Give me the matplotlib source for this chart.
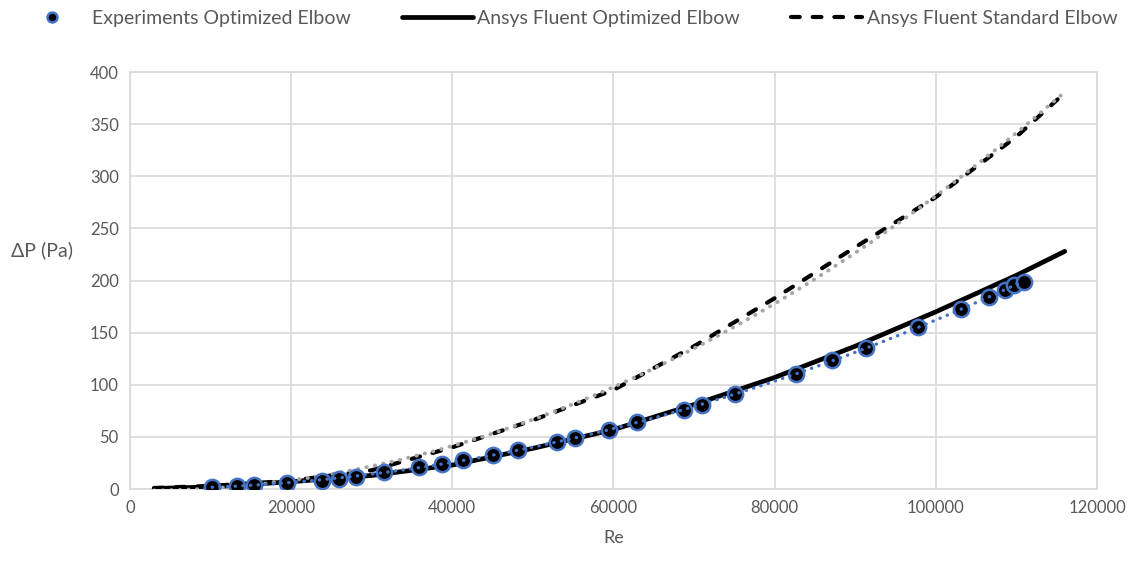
import numpy as np
import matplotlib
matplotlib.use('Agg')
import matplotlib.pyplot as plt

plt.rcParams['font.family'] = ['Lato', 'DejaVu Sans']

# experiments, optimized elbow
re_exp = [10200, 13300, 15400, 19500, 23800, 25900, 28000, 31500, 35900, 38700,
          41300, 45000, 48100, 53000, 55200, 59500, 62900, 68700, 71000, 75100,
          82700, 87100, 91400, 97800, 103100, 106600, 108600, 109700, 110900]
dp_exp = [2, 3, 4, 6, 8, 10, 12, 16, 21, 24,
          28, 33, 37, 45, 49, 57, 64, 76, 81, 91,
          110, 124, 135, 155, 173, 184, 191, 196, 199]

# CFD, optimized elbow
re_opt = [3000, 10000, 20000, 30000, 40000, 50000, 60000, 70000, 80000,
          90000, 100000, 110000, 116000]
dp_opt = [0.5, 2, 7, 13, 23, 39, 57, 81, 107, 137, 170, 205, 228]

# CFD, standard elbow
re_std = [3000, 10000, 20000, 28000, 30000, 40000, 50000, 60000, 70000, 80000,
          90000, 100000, 110000, 116000]
dp_std = [1, 3, 8, 16, 18, 40, 66, 95, 137, 183, 232, 280, 338, 380]

grey_txt = '#595959'
fig = plt.figure(figsize=(11.33, 5.63), dpi=100)
ax = fig.add_axes([0.1147, 0.1314, 0.8535, 0.7406])

# trend lines (2nd order poly fit, like the spreadsheet)
c_std = np.polyfit(re_std, dp_std, 2)
xs = np.linspace(min(re_std), max(re_std), 200)
c_exp = np.polyfit(re_exp, dp_exp, 2)
xe = np.linspace(min(re_exp), max(re_exp), 200)

ax.plot(re_opt, dp_opt, color='black', lw=3.4, solid_capstyle='round',
        label='Ansys Fluent Optimized Elbow', zorder=3)
ax.plot(re_std, dp_std, color='black', lw=3.0, dashes=(2.1, 3.1),
        dash_capstyle='round', label='Ansys Fluent Standard Elbow', zorder=3)
ax.plot(xs, np.polyval(c_std, xs), color='#a6a6a6', lw=2.8, ls=(0, (0.1, 2.1)),
        dash_capstyle='round', zorder=4)
ax.plot(re_exp, dp_exp, 'o', ms=11, mfc='black', mec='#4472c4', mew=1.8,
        label='Experiments Optimized Elbow', zorder=5)
ax.plot(xe, np.polyval(c_exp, xe), color='#4472c4', lw=2.4, ls=(0, (0.1, 2.2)),
        dash_capstyle='round', zorder=6)

ax.set_xlim(0, 120000)
ax.set_ylim(0, 400)
ax.set_xticks(np.arange(0, 120001, 20000))
ax.set_yticks(np.arange(0, 401, 50))
ax.grid(True, color='#d9d9d9', lw=1.2)
ax.set_axisbelow(True)
for s in ax.spines.values():
    s.set_color('#d9d9d9')
    s.set_linewidth(1.2)
ax.tick_params(length=0, labelsize=12, colors=grey_txt, pad=8)

ax.set_xlabel('Re', fontsize=13, color=grey_txt, labelpad=10)
ax.set_ylabel('ΔP (Pa)', fontsize=14, color=grey_txt, rotation=0, ha='center', va='center')
ax.yaxis.set_label_coords(-0.091, 0.573)

h, l = ax.get_legend_handles_labels()
order = [2, 0, 1]
leg = fig.legend([h[i] for i in order], [l[i] for i in order], loc='upper left',
                 bbox_to_anchor=(-0.001, 1.013), ncol=3, frameon=False, fontsize=14,
                 handlelength=3.65, columnspacing=2.6, handletextpad=0.25,
                 markerscale=0.65)
for t in leg.get_texts():
    t.set_color(grey_txt)

fig.savefig('out.png', dpi=100)
